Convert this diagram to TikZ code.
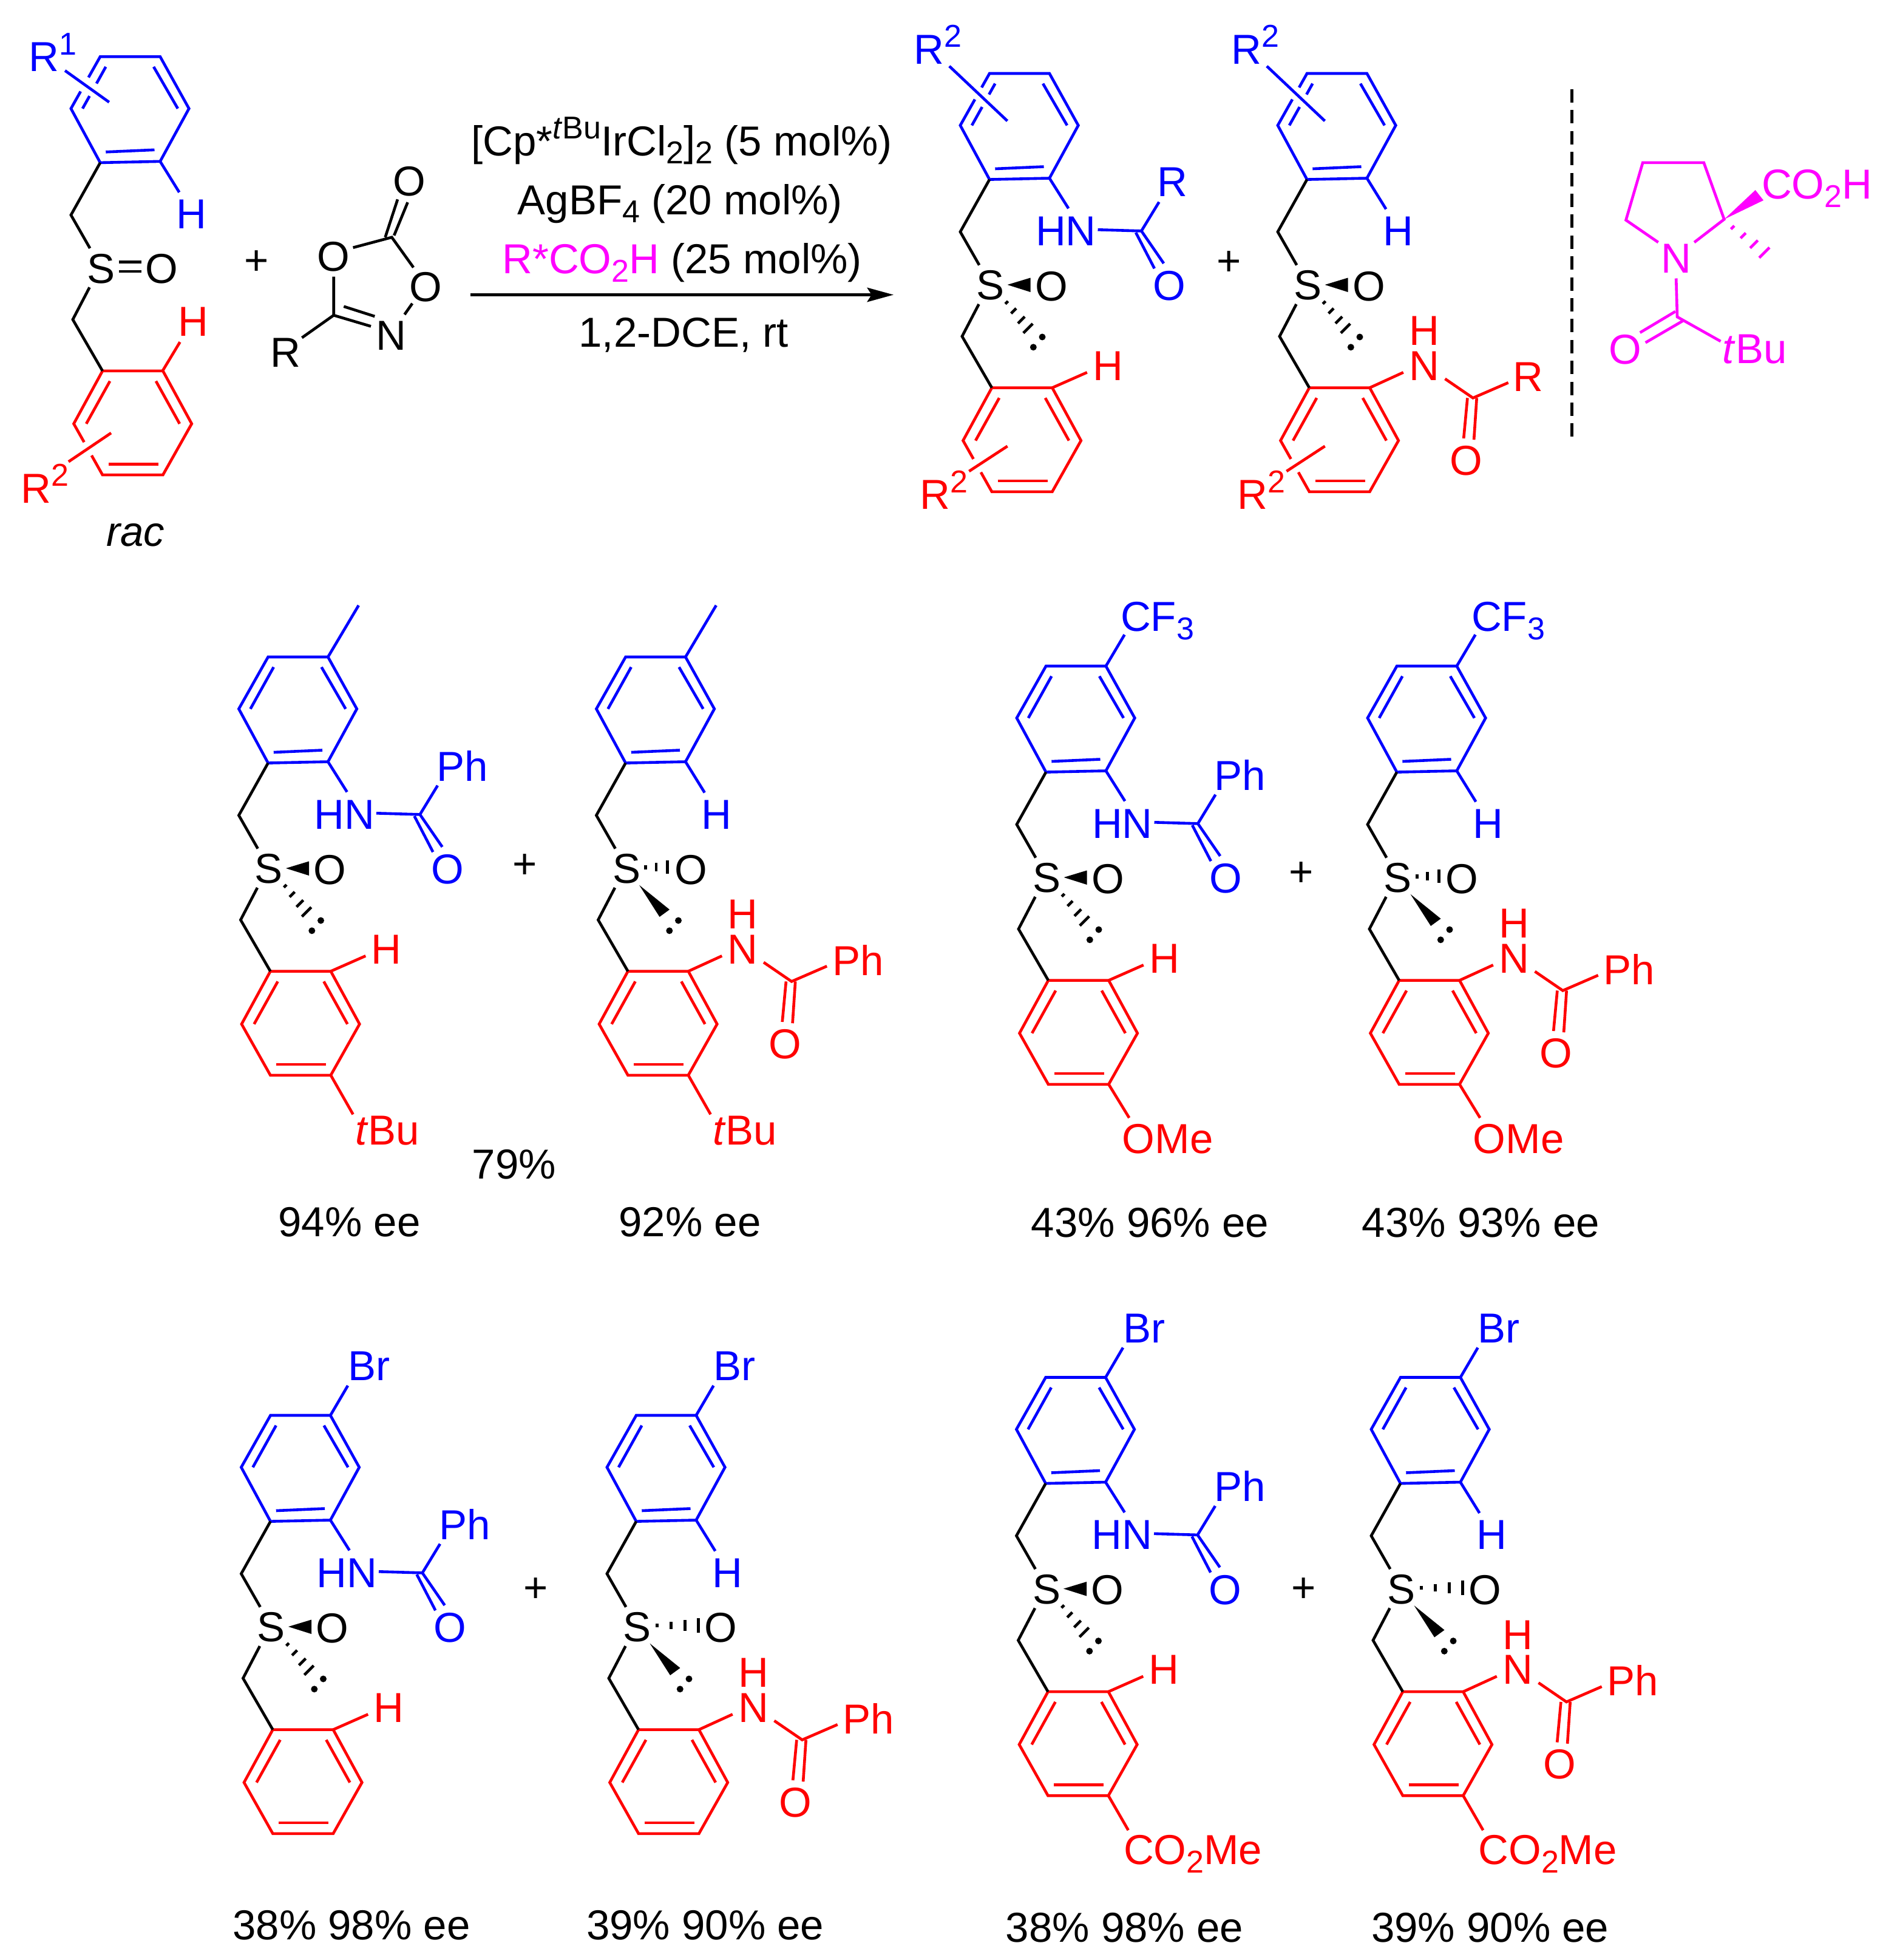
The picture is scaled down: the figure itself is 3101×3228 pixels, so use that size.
\documentclass[tikz,border=0pt]{standalone}
\usepackage{fontspec}
\setmainfont{Liberation Sans}
\usetikzlibrary{arrows.meta}
\definecolor{bl}{RGB}{0,0,255}
\definecolor{rd}{RGB}{255,0,0}
\definecolor{mg}{RGB}{255,0,255}
\newcommand\ChemSub[1]{\smash{\raisebox{-6.7pt}{\fontsize{26}{26}\selectfont #1}}}
\newcommand\ChemSup[1]{\smash{\raisebox{13.8pt}{\fontsize{26}{26}\selectfont #1}}}
\newcommand\tBu{\textit{t}Bu}
\tikzset{
  lab/.style={inner sep=0pt,outer sep=0pt},
  bb/.style={line width=2.3pt,draw=black},
  bbl/.style={line width=2.3pt,draw=bl},
  brd/.style={line width=2.3pt,draw=rd},
  bmg/.style={line width=2.3pt,draw=mg},
}
% ---- parts, in coordinates relative to the sulfur atom ----
\newcommand\UpInner{%
  \draw[bbl] (86.6,-332.3)--(126.4,-263.5);
  \draw[bbl] (7.8,-192)--(88,-195.5);}
\newcommand\UpFull{%
  \draw[bbl] (-1.4,-349)--(97.3,-349)--(144.8,-263.5)--(97.3,-176.5)--(-1.4,-174.4)--(-49.6,-263.5)--cycle;
  \draw[bbl] (7.8,-332.3)--(-30.5,-263.5);
  \UpInner}
\newcommand\UpGap[4]{%
  \draw[bbl] (#1)--(-1.4,-349)--(97.3,-349)--(144.8,-263.5)--(97.3,-176.5)--(-1.4,-174.4)--(-49.6,-263.5)--(#2);
  \draw[bbl] (7.8,-332.3)--(#3) (#4)--(-30.5,-263.5);
  \UpInner}
\newcommand\LowInner{%
  \draw[brd] (14.6,185.4)--(-24.4,255.6);
  \draw[brd] (90.4,185.4)--(129.4,255.6);
  \draw[brd] (12.4,322)--(94.2,322);}
\newcommand\LowFull{%
  \draw[brd] (2.4,168.6)--(101.9,168.6)--(149.3,255.6)--(101.9,339.8)--(2.4,339.8)--(-45,255.6)--cycle;
  \LowInner}
\newcommand\LowGap{%
  \draw[brd] (-15.6,307.8)--(2.4,339.8)--(101.9,339.8)--(149.3,255.6)--(101.9,168.6)--(2.4,168.6)--(-45,255.6)--(-27.9,285.9);
  \LowInner}
\newcommand\Linker{%
  \draw[bb] (-1.4,-174.4)--(-49.6,-88.2)--(-18.3,-33.4);
  \draw[bb] (-19,31)--(-46.6,84)--(2.4,168.6);}
\newcommand\LonePair{%
  \fill (85.5,85) circle (5.5);
  \fill (70.8,101.8) circle (5.5);}
\newcommand\HashLp{%
  \draw[bb] (29,26)--(24.6,30.5);
  \draw[bb] (42.5,37.8)--(34.1,46.2);
  \draw[bb] (56.6,51.4)--(45.4,62.6);
  \draw[bb] (69.7,63.1)--(54.3,78.5);}
\newcommand\WedgeLp{\fill (21,26.6)--(71,67)--(54.5,79)--cycle;}
% S with wedge to O and hashes to the lone pair
\newcommand\SulfA[1]{%
  \node[lab] (#1S) at (0,0) {S};
  \node[lab] (#1O) at (100.4,1.6) {O};
  \fill (28,-1)--(66,-12.5)--(66,11)--cycle;
  \HashLp\LonePair}
% S with short hashes to O and wedge to the lone pair
\newcommand\SulfB[1]{%
  \node[lab] (#1S) at (0,0) {S};
  \node[lab] (#1O) at (106,1.6) {O};
  \draw[bb] (31.7,-6)--(31.7,1);
  \draw[bb] (49,-10)--(49,4);
  \draw[bb] (67.7,-14)--(67.7,8);
  \WedgeLp\LonePair}
% S with long hashes to O and wedge to the lone pair
\newcommand\SulfC[1]{%
  \node[lab] (#1S) at (0,0) {S};
  \node[lab] (#1O) at (138,1) {O};
  \draw[bb] (33,-6)--(33,0);
  \draw[bb] (56,-9)--(56,3);
  \draw[bb] (79,-12)--(79,6);
  \draw[bb] (101,-15)--(101,9);
  \WedgeLp\LonePair}
\newcommand\AmideBlue[3]{%
  \draw[bbl] (97.3,-176.5)--(128.7,-126.7);
  \node[lab,text=bl] (#1NH) at (124.4,-89.6) {HN};
  \draw[bbl] (177,-91.7)--(248.8,-89.6)--(277.9,-137.3);
  \draw[bbl] (248.8,-89.6)--(285.6,-36.2) (239.6,-87)--(270.3,-27.8);
  \node[lab,text=bl] (#1Ra) at (#2,-170) {#3};
  \node[lab,text=bl] (#1Oa) at (294.7,1) {O};}
\newcommand\HBlue[1]{%
  \draw[bbl] (97.3,-176.5)--(128.8,-125.6);
  \node[lab,text=bl] (#1Hb) at (148.5,-89.4) {H};}
\newcommand\HRed[1]{%
  \draw[brd] (101.9,168.6)--(159.3,143.3);
  \node[lab,text=rd] (#1Hr) at (193.4,132.5) {H};}
\newcommand\AmideRed[3]{%
  \draw[brd] (101.9,168.6)--(157.3,143.3);
  \node[lab,text=rd] (#1Na) at (191.7,132.5) {N};
  \node[lab,text=rd] (#1Ha) at (191.7,75) {H};
  \draw[brd] (226,153.9)--(272,185.4)--(330.2,160.2);
  \draw[brd] (278.2,185.4)--(273.6,254.2) (262.9,185.4)--(256.7,252);
  \node[lab,text=rd] (#1Oa) at (261.3,288.5) {O};
  \node[lab,text=rd] (#1Ra) at (#2,150.4) {#3};}
\newcommand\RtwoTop[1]{%
  \draw[bbl] (-67.6,-361)--(28,-270.8);
  \node[lab,text=bl,anchor=west] (#1Rt) at (-126,-388.5) {R\ChemSup{2}};}
\newcommand\RtwoLow[1]{%
  \draw[brd] (-35.1,306.1)--(28.1,264.8);
  \node[lab,text=rd,anchor=west] (#1Rl) at (-116,345.2) {R\ChemSup{2}};}
\newcommand\MeTop{\draw[bbl] (97.3,-349)--(147.8,-434);}
\newcommand\BrTop[1]{%
  \draw[bbl] (97.3,-349)--(126,-398);
  \node[lab,text=bl] (#1Br) at (160.5,-430) {Br};}
\newcommand\CFTop[1]{%
  \draw[bbl] (97.3,-349)--(128,-400.7);
  \node[lab,text=bl,anchor=west] (#1CF) at (121.5,-430) {CF\ChemSub{3}};}
\newcommand\tBuLow[1]{%
  \draw[brd] (101.9,339.8)--(138.6,404.3);
  \node[lab,text=rd] (#1tB) at (195,431) {\tBu};}
\newcommand\OMeLow[1]{%
  \draw[brd] (101.9,339.8)--(135.7,395);
  \node[lab,text=rd] (#1OM) at (199.2,429.5) {OMe};}
\newcommand\EsterLow[1]{%
  \draw[brd] (101.9,339.8)--(134.7,396.7);
  \node[lab,text=rd,anchor=west] (#1CO) at (127,429.7) {CO\ChemSub{2}Me};}
\begin{document}
\begin{tikzpicture}[x=0.5pt,y=-0.5pt,font=\fontsize{34.5}{40}\selectfont]
\useasboundingbox (0,0) rectangle (3101,3228);
\fill[white] (0,0) rectangle (3101,3228);

% ===== substrate =====
\begin{scope}[shift={(166.5,442.3)}]
  \UpGap{-20.7,-314.8}{-33.7,-291.7}{-7.5,-304.8}{-19,-284.1}
  \LowGap\Linker
  \node[lab] (s0S) at (0,0) {S};
  \draw[bb] (29.3,-11)--(66.3,-11) (29.3,4.8)--(66.3,4.8);
  \node[lab] (s0O) at (99.4,0) {O};
  \draw[bbl] (-59.4,-326)--(13.3,-274);
  \node[lab,text=bl,anchor=west] (s0R) at (-119,-348.3) {R\ChemSup{1}};
  \HBlue{s0}
  \draw[brd] (101.4,168.4)--(130,121);
  \node[lab,text=rd] (s0Hr) at (152.4,87.9) {H};
  \draw[brd] (-53.6,318.1)--(16.5,270.8);
  \node[lab,text=rd,anchor=west] (s0Rl) at (-132,362.3) {R\ChemSup{2}};
\end{scope}
\node[lab] (rac) at (223.2,881.6) {\textit{rac}};
\node[lab] (plus0) at (422.2,433) {+};

% ===== dioxazolone =====
\node[lab] (dO1) at (674,298.7) {O};
\node[lab] (dO2) at (549.7,423) {O};
\node[lab] (dO3) at (701.5,472.6) {O};
\node[lab] (dN) at (644,552.6) {N};
\node[lab] (dR) at (470.7,580.4) {R};
\draw[bb] (634.6,390.8)--(655,328.4) (649.2,387.8)--(671.6,333.2);
\draw[bb] (581.6,407.8)--(645.4,390.8)--(681.1,440.5);
\draw[bb] (679.2,499.8)--(666.4,518);
\draw[bb] (549.7,455.6)--(549.7,519.2)--(611,537.4);
\draw[bb] (566.3,504.7)--(617.3,521);
\draw[bb] (549.7,519.2)--(497.4,556.2);

% ===== conditions =====
\node[lab,anchor=base] (c1) at (1123,256) {[Cp*\ChemSup{\textit{t}Bu}IrCl\ChemSub{2}]\ChemSub{2} (5 mol\%)};
\node[lab,anchor=base] (c2) at (1120.3,353.3) {AgBF\ChemSub{4} (20 mol\%)};
\node[lab,anchor=base] (c3) at (1123.7,450.7) {\textcolor{mg}{R*CO\ChemSub{2}H} (25 mol\%)};
\node[lab,anchor=base] (c4) at (1126,571.7) {1,2-DCE, rt};
\coordinate (arrS) at (775,485.5);
\coordinate (arrE) at (1472,485.5);
\draw[line width=2.3pt,-{Stealth[length=21.7pt,width=11.7pt,inset=3.6pt]}] (arrS)--(arrE);

% ===== top products =====
\begin{scope}[shift={(1631.5,470)}]
  \UpGap{-14.4,-325.9}{-25.5,-306.3}{-2.2,-314.4}{-13.6,-293.8}
  \LowGap\Linker\SulfA{p1}\RtwoTop{p1}\RtwoLow{p1}
  \AmideBlue{p1}{299.7}{R}\HRed{p1}
\end{scope}
\node[lab] (plus1) at (2025,433.4) {+};
\begin{scope}[shift={(2154.5,470)}]
  \UpGap{-14.4,-325.9}{-25.5,-306.3}{-2.2,-314.4}{-13.6,-293.8}
  \LowGap\Linker\SulfA{p2}\RtwoTop{p2}\RtwoLow{p2}
  \HBlue{p2}\AmideRed{p2}{363}{R}
\end{scope}

% ===== dashed separator =====
\coordinate (dashA) at (2589.5,147);
\coordinate (dashB) at (2589.5,720);
\draw[line width=2.2pt,dash pattern=on 11pt off 6.2pt] (dashA)--(dashB);

% ===== acid =====
\node[lab,text=mg] (aN) at (2761.2,425.9) {N};
\node[lab,text=mg,anchor=west] (aC) at (2902,304) {CO\ChemSub{2}H};
\node[lab,text=mg] (aO) at (2677.2,575.4) {O};
\node[lab,text=mg] (atB) at (2890.4,575.4) {\tBu};
\draw[bmg,line join=miter] (2731.7,399.1)--(2678.5,362.5)--(2706.2,267.9)--(2806.8,267.9)--(2840.3,361.2)--(2791.1,399.1);
\fill[mg] (2840.3,361.2)--(2891.7,313)--(2905.1,329.9)--cycle;
\draw[bmg] (2851.5,377.3)--(2856.9,371.9);
\draw[bmg] (2867.4,392.2)--(2875.8,383.8);
\draw[bmg] (2883.2,408.5)--(2895.8,395.9);
\draw[bmg] (2898.1,424.4)--(2914.9,407.6);
\draw[bmg] (2761.2,458.5)--(2763,521.9)--(2834.5,562.1);
\draw[bmg] (2759.9,513)--(2701.7,547.8) (2772,528.6)--(2710.7,564.3);

% ===== row 2 =====
\begin{scope}[shift={(443,1431)}]
  \UpFull\LowFull\Linker\SulfA{a1}\MeTop
  \AmideBlue{a1}{318.5}{Ph}\HRed{a1}\tBuLow{a1}
\end{scope}
\node[lab] (plusA) at (864.8,1427) {+};
\begin{scope}[shift={(1032,1431)}]
  \UpFull\LowFull\Linker\SulfB{a2}\MeTop
  \HBlue{a2}\AmideRed{a2}{381.5}{Ph}\tBuLow{a2}
\end{scope}
\node[lab] (y79) at (847,1918) {79\%};
\node[lab] (eeA1) at (575.5,2012.8) {94\% ee};
\node[lab] (eeA2) at (1136.5,2012.8) {92\% ee};

\begin{scope}[shift={(1724.5,1446)}]
  \UpFull\LowFull\Linker\SulfA{b1}\CFTop{b1}
  \AmideBlue{b1}{318.5}{Ph}\HRed{b1}\OMeLow{b1}
\end{scope}
\node[lab] (plusB) at (2143.4,1440) {+};
\begin{scope}[shift={(2302.5,1446)}]
  \UpFull\LowFull\Linker\SulfB{b2}\CFTop{b2}
  \HBlue{b2}\AmideRed{b2}{381.5}{Ph}\OMeLow{b2}
\end{scope}
\node[lab] (eeB1) at (1894.6,2013.4) {43\% 96\% ee};
\node[lab] (eeB2) at (2439.5,2013.4) {43\% 93\% ee};

% ===== row 3 =====
\begin{scope}[shift={(447,2680)}]
  \UpFull\LowFull\Linker\SulfA{c1}\BrTop{c1}
  \AmideBlue{c1}{318.5}{Ph}\HRed{c1}
\end{scope}
\node[lab] (plusC) at (882.7,2618.9) {+};
\begin{scope}[shift={(1049.5,2680)}]
  \UpFull\LowFull\Linker\SulfC{c2}\BrTop{c2}
  \HBlue{c2}\AmideRed{c2}{381.5}{Ph}
\end{scope}
\node[lab] (eeC1) at (579,3171) {38\% 98\% ee};
\node[lab] (eeC2) at (1161.8,3171) {39\% 90\% ee};

\begin{scope}[shift={(1724,2617.5)}]
  \UpFull\LowFull\Linker\SulfA{d1}\BrTop{d1}
  \AmideBlue{d1}{318.5}{Ph}\HRed{d1}\EsterLow{d1}
\end{scope}
\node[lab] (plusD) at (2148,2619) {+};
\begin{scope}[shift={(2308.5,2617.5)}]
  \UpFull\LowFull\Linker\SulfC{d2}\BrTop{d2}
  \HBlue{d2}\AmideRed{d2}{381.5}{Ph}\EsterLow{d2}
\end{scope}
\node[lab] (eeD1) at (1852.5,3174.4) {38\% 98\% ee};
\node[lab] (eeD2) at (2454.8,3174.4) {39\% 90\% ee};
\end{tikzpicture}
\end{document}
